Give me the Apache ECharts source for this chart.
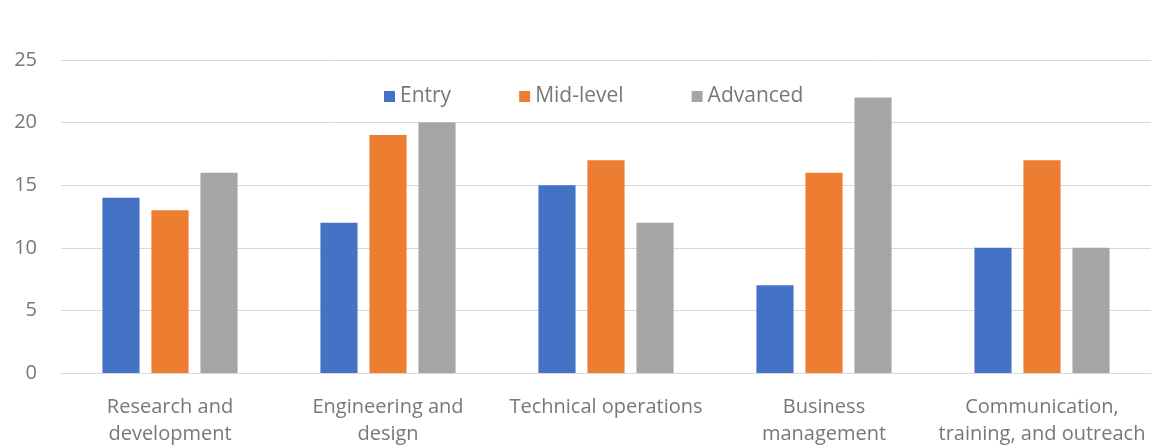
<!DOCTYPE html>
<html>
<head>
<meta charset="utf-8">
<script src="https://cdn.jsdelivr.net/npm/echarts@6/dist/echarts.min.js"></script>
<style>
  html, body { margin: 0; padding: 0; background: #fff; }
  #main { width: 1156px; height: 448px; }
</style>
</head>
<body>
<div id="main"></div>
<script>
// data
const categories = ['Research and\ndevelopment', 'Engineering and\ndesign', 'Technical operations', 'Business\nmanagement', 'Communication,\ntraining, and outreach'];
const entry = [14, 12, 15, 7, 10];
const midLevel = [13, 19, 17, 16, 17];
const advanced = [16, 20, 12, 22, 10];
const yTicks = [0, 5, 10, 15, 20, 25];

function chart() {
    let myChart = echarts.init(document.querySelector('#main'));
    let textColor = '#787878';
    let font = 'Open Sans';
    let option = {
        color: ['#4472C4', '#ED7D31', '#A5A5A5'],
        legend: {
            top: 81,
            left: 379,
            itemWidth: 11,
            itemHeight: 11,
            itemGap: 68,
            icon: 'rect',
            textStyle: { color: textColor, fontSize: 21, fontFamily: font },
            data: ['Entry', 'Mid-level', 'Advanced']
        },
        grid: { left: 61, right: 5, top: 60, bottom: 74 },
        xAxis: {
            type: 'category',
            data: categories,
            axisLine: { lineStyle: { color: '#d9d9d9' } },
            axisTick: { show: false },
            axisLabel: {
                color: textColor,
                fontSize: 20,
                fontFamily: font,
                lineHeight: 27,
                margin: 21,
                interval: 0
            }
        },
        yAxis: {
            type: 'value',
            min: yTicks[0],
            max: yTicks[yTicks.length - 1],
            interval: 5,
            axisLine: { show: false },
            axisTick: { show: false },
            splitLine: { lineStyle: { color: '#d9d9d9' } },
            axisLabel: { color: textColor, fontSize: 20, fontFamily: font, margin: 24 }
        },
        series: [
            { name: 'Entry', type: 'bar', data: entry, barGap: '32%', barCategoryGap: '38%' },
            { name: 'Mid-level', type: 'bar', data: midLevel },
            { name: 'Advanced', type: 'bar', data: advanced }
        ]
    };
    myChart.setOption(option);
}
chart();
</script>
</body>
</html>
